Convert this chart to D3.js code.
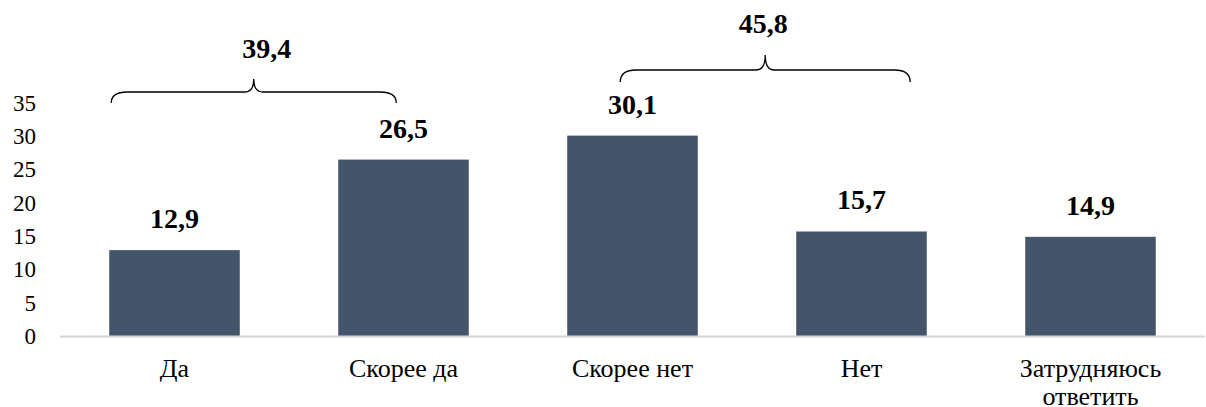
<!DOCTYPE html>
<html>
<head>
<meta charset="utf-8">
<script src="https://cdn.jsdelivr.net/npm/d3@7"></script>
<style>
  body { margin: 0; background: #fff; }
</style>
</head>
<body>
<svg id="chart" width="1206" height="407"></svg>
<script>
// chart data
const categories = ['Да', 'Скорее да', 'Скорее нет', 'Нет', 'Затрудняюсь ответить'];
const values = [12.9, 26.5, 30.1, 15.7, 14.9];
const yTicks = [0, 5, 10, 15, 20, 25, 30, 35];
// grouped totals shown above the braces
const groups = [
    { from: 'Да', to: 'Скорее да', total: '39,4' },
    { from: 'Скорее нет', to: 'Нет', total: '45,8' }
];

const FONT = 'Liberation Serif';

const margin = { top: 103, right: 1, bottom: 71, left: 60 };
const width = 1206 - margin.left - margin.right;
const height = 407 - margin.top - margin.bottom;

const svg = d3.select('#chart');
const g = svg.append('g')
    .attr('transform', `translate(${margin.left}, ${margin.top})`);

const xScale = d3.scaleBand()
    .domain(categories)
    .range([0, width])
    .paddingInner(0.43)
    .paddingOuter(0.215);

const yScale = d3.scaleLinear()
    .domain([0, 35])
    .range([height, 0]);

const fmt = v => String(v).replace('.', ',');

// y axis labels only
const yAxis = g.append('g')
    .call(d3.axisLeft(yScale).tickValues(yTicks).tickSize(0).tickPadding(24));
yAxis.attr('font-family', FONT).attr('font-size', 23);
yAxis.select('.domain').remove();
yAxis.selectAll('text')
    .attr('font-family', FONT)
    .attr('font-size', 23)
    .attr('fill', '#000');

// bars
g.selectAll('.bar')
    .data(values)
    .join('rect')
    .attr('class', 'bar')
    .attr('x', (d, i) => xScale(categories[i]))
    .attr('y', d => yScale(d))
    .attr('width', xScale.bandwidth())
    .attr('height', d => height - yScale(d))
    .attr('fill', '#44546a');

// baseline
g.append('line')
    .attr('x1', 0)
    .attr('x2', width)
    .attr('y1', height + 0.5)
    .attr('y2', height + 0.5)
    .attr('stroke', '#d4d4d4')
    .attr('stroke-width', 2);

// value labels
g.selectAll('.value')
    .data(values)
    .join('text')
    .attr('class', 'value')
    .attr('x', (d, i) => xScale(categories[i]) + xScale.bandwidth() / 2)
    .attr('y', d => yScale(d) - 22)
    .attr('text-anchor', 'middle')
    .attr('font-family', FONT)
    .attr('font-size', 28)
    .attr('font-weight', 'bold')
    .text(d => fmt(d));

// category labels, wrapped on space for the last one
const xLabels = g.selectAll('.xlabel')
    .data(categories)
    .join('text')
    .attr('class', 'xlabel')
    .attr('x', d => xScale(d) + xScale.bandwidth() / 2)
    .attr('y', height + 41)
    .attr('text-anchor', 'middle')
    .attr('font-family', FONT)
    .attr('font-size', 26);
xLabels.each(function (d) {
    const words = d === 'Затрудняюсь ответить' ? d.split(' ') : [d];
    const t = d3.select(this);
    words.forEach((w, i) => {
        t.append('tspan')
            .attr('x', xScale(d) + xScale.bandwidth() / 2)
            .attr('dy', i === 0 ? 0 : 28)
            .text(w);
    });
});

// curly braces over pairs of bars
function bracePath(x0, x1, yEnd, yH, yTip) {
    const mid = (x0 + x1) / 2;
    const r = 16, r2 = 9;
    return `M${x0},${yEnd} Q${x0},${yH} ${x0 + r},${yH} L${mid - r2},${yH} Q${mid},${yH} ${mid},${yTip}`
        + ` Q${mid},${yH} ${mid + r2},${yH} L${x1 - r},${yH} Q${x1},${yH} ${x1},${yEnd}`;
}

const braceLayout = [
    { x0: xScale('Да') + 2, x1: xScale('Скорее да') + 58, yEnd: 0, yH: -11, yTip: -24, labelDx: 13, labelY: -45 },
    { x0: xScale('Скорее нет') + 53, x1: xScale('Нет') + 114, yEnd: -21, yH: -33, yTip: -48, labelDx: -2, labelY: -70 }
];

groups.forEach((grp, i) => {
    const b = braceLayout[i];
    g.append('path')
        .attr('d', bracePath(b.x0, b.x1, b.yEnd, b.yH, b.yTip))
        .attr('fill', 'none')
        .attr('stroke', '#000')
        .attr('stroke-width', 1.3);
    g.append('text')
        .attr('x', (b.x0 + b.x1) / 2 + b.labelDx)
        .attr('y', b.labelY)
        .attr('text-anchor', 'middle')
        .attr('font-family', FONT)
        .attr('font-size', 28)
        .attr('font-weight', 'bold')
        .text(grp.total);
});
</script>
</body>
</html>
